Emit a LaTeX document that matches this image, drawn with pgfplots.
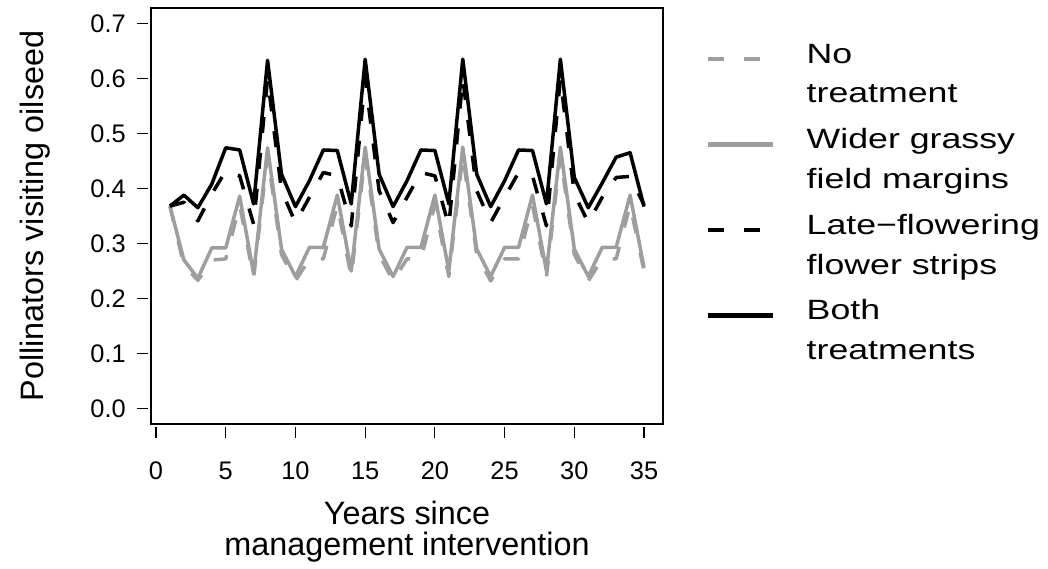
\documentclass[border=0pt]{standalone}
\usepackage{pgfplots}
\pgfplotsset{compat=1.18}
\usepackage{pgfplotstable}
\usepackage{fontspec}
\setmainfont{Liberation Sans}
\usepackage{graphicx}
\definecolor{grayline}{RGB}{158,158,158}

\pgfplotstableread{
x nt wm lf both
1 0.368 0.368 0.368 0.368
2 0.260 0.270 0.375 0.388
3 0.233 0.237 0.341 0.365
4 0.270 0.292 0.390 0.408
5 0.272 0.292 0.432 0.474
6 0.370 0.386 0.423 0.470
7 0.238 0.245 0.335 0.372
8 0.460 0.474 0.600 0.633
9 0.280 0.290 0.396 0.426
10 0.232 0.240 0.338 0.367
11 0.272 0.293 0.384 0.414
12 0.272 0.293 0.429 0.470
13 0.370 0.388 0.423 0.469
14 0.240 0.250 0.332 0.372
15 0.460 0.475 0.600 0.635
16 0.280 0.290 0.396 0.426
17 0.232 0.240 0.338 0.367
18 0.272 0.293 0.384 0.414
19 0.272 0.293 0.429 0.470
20 0.370 0.388 0.423 0.469
21 0.240 0.250 0.332 0.372
22 0.460 0.475 0.600 0.635
23 0.280 0.290 0.396 0.426
24 0.232 0.240 0.338 0.367
25 0.272 0.293 0.384 0.414
26 0.272 0.293 0.429 0.470
27 0.370 0.388 0.423 0.469
28 0.240 0.250 0.332 0.372
29 0.460 0.475 0.600 0.635
30 0.280 0.290 0.390 0.420
31 0.232 0.240 0.338 0.365
32 0.272 0.293 0.384 0.410
33 0.272 0.293 0.420 0.457
34 0.370 0.388 0.422 0.465
35 0.250 0.256 0.370 0.367
}\datatable

\begin{document}
\begin{tikzpicture}
\path[use as bounding box] (0,0) rectangle (1048bp,569bp);
\begin{axis}[
  at={(151bp,145bp)}, anchor=south west,
  scale only axis, width=512bp, height=416bp,
  xmin=-0.36, xmax=36.36, ymin=-0.028, ymax=0.728,
  xtick={0,5,10,15,20,25,30,35},
  ytick={0,0.1,0.2,0.3,0.4,0.5,0.6,0.7},
  tick align=outside, xtick pos=bottom, ytick pos=left,
  major tick length=11bp,
  axis line style={line width=1.2bp},
  every tick/.style={black, line width=1.2bp},
  x tick style={yshift=-3bp},
  y tick style={xshift=-3bp},
  /pgf/number format/assume math mode=true,
  tick label style={font=\fontsize{25.5}{30}\selectfont, inner sep=0pt},
  yticklabel style={/pgf/number format/fixed, /pgf/number format/fixed zerofill, /pgf/number format/precision=1, anchor=east, xshift=-14bp},
  xticklabel style={anchor=north, yshift=-27bp},
  xlabel={Years since\\management intervention},
  xlabel style={align=center, font=\fontsize{32.5}{31}\selectfont, at={(axis description cs:0.5,0)}, anchor=north, yshift=-77bp, inner sep=0pt},
  ylabel={Pollinators visiting oilseed},
  ylabel style={font=\fontsize{32.5}{37}\selectfont, at={(axis description cs:-0.2109,0.5)}, anchor=base, inner sep=0pt},
  legend style={draw=none, fill=none, at={(axis description cs:1,1)}, anchor=north west, xshift=40bp, yshift=-25bp, row sep=38bp, column sep=31bp, nodes={inner sep=0pt}, font=\fontsize{28}{40}\selectfont},
  legend cell align=left,
  legend image code/.code={\draw[#1, line width=4.5bp] (0bp,0bp) -- (65bp,0bp);},
]
\addplot[grayline, line width=3.5bp, line join=round, dash pattern=on 16bp off 20bp] table[x=x, y=nt] {\datatable};
\addlegendentry{\scalebox{1.28}[1]{\begin{tabular}{@{}l@{}}No\\treatment\end{tabular}}}
\addplot[grayline, line width=3.5bp, line join=round] table[x=x, y=wm] {\datatable};
\addlegendentry{\scalebox{1.28}[1]{\begin{tabular}{@{}l@{}}Wider grassy\\field margins\end{tabular}}}
\addplot[black, line width=3.5bp, line join=round, dash pattern=on 16bp off 20bp] table[x=x, y=lf] {\datatable};
\addlegendentry{\scalebox{1.28}[1]{\begin{tabular}{@{}l@{}}Late−flowering\\flower strips\end{tabular}}}
\addplot[black, line width=3.5bp, line join=round] table[x=x, y=both] {\datatable};
\addlegendentry{\scalebox{1.28}[1]{\begin{tabular}{@{}l@{}}Both\\treatments\end{tabular}}}
\end{axis}
\end{tikzpicture}
\end{document}
